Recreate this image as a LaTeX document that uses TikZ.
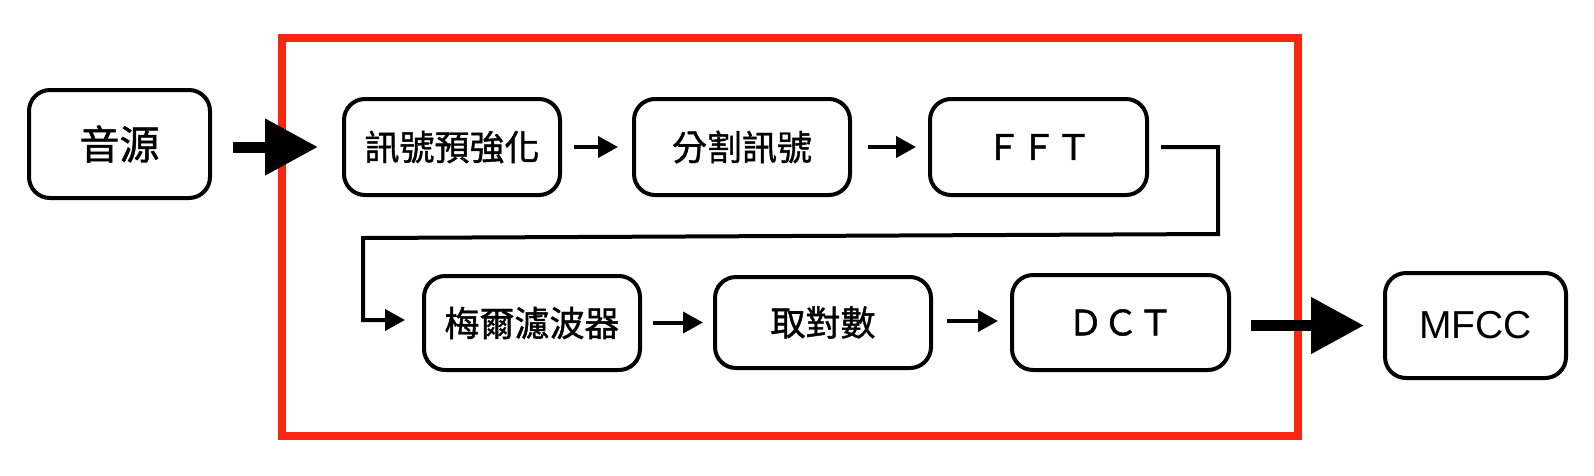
\documentclass[tikz,border=0pt]{standalone}
\usepackage{fontspec}
\newfontfamily\cjk[FakeBold=1.2]{Noto Sans CJK TC}
\newfontfamily\hel{Liberation Sans}
\usetikzlibrary{arrows.meta}
\definecolor{redline}{RGB}{250,38,18}
\begin{document}
\begin{tikzpicture}[x=1pt,y=-1pt,
  box/.style={draw=black,line width=4pt,rounded corners=21pt,fill=white,inner sep=0pt,
    minimum width=216pt,minimum height=96pt,font=\cjk\fontsize{35}{40}\selectfont},
  small/.style={line width=4pt,-{Triangle[length=20pt,width=21pt]}},
  big/.style={line width=11pt,-{Triangle[length=53pt,width=54pt]}}]
\useasboundingbox (0,0) rectangle (1594,475);
\draw[redline,line width=8pt] (282,37.5) rectangle (1298,436);
\node[box,minimum width=181pt,minimum height=108pt,font=\cjk\fontsize{40}{46}\selectfont] (src) at (119.5,144) {音源};
\node[box] (a) at (452,147) {訊號預強化};
\node[box] (b) at (742,147) {分割訊號};
\node[box,minimum width=217pt] (c) at (1038.5,147) {ＦＦＴ};
\node[box,minimum height=94pt] (d) at (532,323) {梅爾濾波器};
\node[box,minimum height=91pt] (e) at (823,322.5) {取對數};
\node[box,minimum width=217pt,minimum height=95pt] (f) at (1120.5,322.5) {ＤＣＴ};
\node[box,minimum width=181pt,minimum height=105pt,font=\hel\fontsize{39}{45}\selectfont] (g) at (1475.5,325.5) {MFCC};
\coordinate (k1) at (1218,147);
\coordinate (k2) at (1218,234);
\coordinate (k3) at (363,238);
\coordinate (k4) at (363,320);
\draw[big,shorten <=21pt,shorten >=24pt] (src.east |- a.west) -- (a.west);
\draw[small,shorten <=12pt,shorten >=14pt] (a.east) -- (b.west);
\draw[small,shorten <=16pt,shorten >=12pt] (b.east) -- (c.west);
\draw[line width=4pt,-{Triangle[length=20pt,width=21pt]},line join=miter]
  ([xshift=12pt]c.east) -- (k1) -- (k2) -- (k3) -- (k4) -- ([xshift=-17pt]d.west |- k4);
\draw[small,shorten <=11pt,shorten >=10pt] (d.east |- e.west) -- (e.west);
\draw[small,shorten <=14pt,shorten >=12pt] ([yshift=1.5pt]e.east) -- ([yshift=1.5pt]f.west);
\draw[big,shorten <=20pt,shorten >=19pt] (f.east |- g.west) -- (g.west);
\end{tikzpicture}
\end{document}
